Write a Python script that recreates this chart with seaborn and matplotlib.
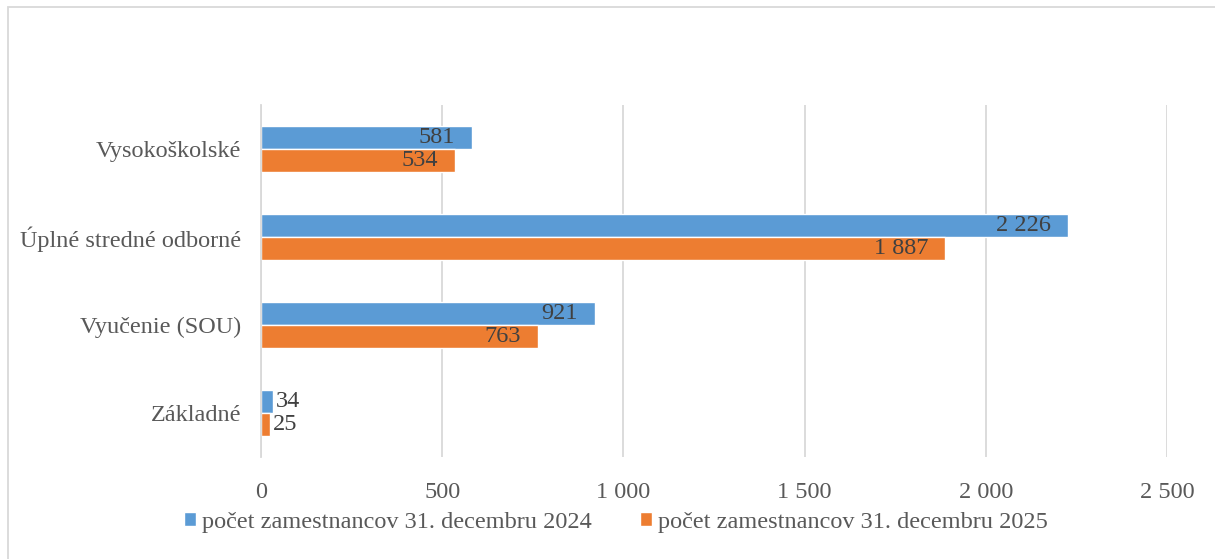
import pandas as pd
import matplotlib
matplotlib.use("Agg")
import matplotlib.pyplot as plt
import seaborn as sns
from matplotlib.patches import Rectangle


categories = ["Vysokoškolské", "Úplné stredné odborné", "Vyučenie (SOU)", "Základné"]
values_2024 = [581, 2226, 921, 34]
values_2025 = [534, 1887, 763, 25]
series = ["počet zamestnancov 31. decembru 2024", "počet zamestnancov 31. decembru 2025"]
xticks = [0, 500, 1000, 1500, 2000, 2500]


def fmt(v):
    return f"{v:,}".replace(",", " ")


df = pd.DataFrame({
    "kategoria": categories * 2,
    "pocet": values_2024 + values_2025,
    "rok": [series[0]] * 4 + [series[1]] * 4,
})

sns.set_style("white")
plt.rcParams["font.family"] = ["Liberation Serif", "DejaVu Serif"]
FS = 17.5

fig = plt.figure(figsize=(12.15, 5.59), dpi=100)
ax = fig.add_axes([0.2148, 0.1825, 0.7457, 0.6297])

sns.barplot(data=df, y="kategoria", x="pocet", hue="rok", order=categories,
            hue_order=series, palette=["#5B9BD5", "#ED7D31"], width=0.52,
            saturation=1, orient="h", ax=ax)

for cont in ax.containers:
    vals = [int(b.get_width()) for b in cont]
    inside = [fmt(v) if v > 100 else "" for v in vals]
    outside = [fmt(v) if v <= 100 else "" for v in vals]
    for t in ax.bar_label(cont, labels=inside, padding=-12, fontsize=FS, color="#404040"):
        t.set_ha("right")
    ax.bar_label(cont, labels=outside, padding=2, fontsize=FS, color="#404040")

ax.set_xlim(0, 2500)
ax.set_xticks(xticks)
ax.set_xticklabels([fmt(v) for v in xticks])
ax.set_ylim(3.5, -0.5)
ax.set_xlabel("")
ax.set_ylabel("")
ax.grid(axis="x", color="#D9D9D9", linewidth=1.3)
ax.set_axisbelow(True)
for s in ["top", "right", "bottom"]:
    ax.spines[s].set_visible(False)
ax.spines["left"].set_color("#D9D9D9")
ax.spines["left"].set_linewidth(1.3)
ax.tick_params(axis="both", length=0, labelsize=FS, labelcolor="#595959")
ax.tick_params(axis="x", pad=18)
ax.tick_params(axis="y", pad=14)

ax.legend(loc="center", bbox_to_anchor=(0.507, 0.066), bbox_transform=fig.transFigure,
          ncol=2, frameon=False, fontsize=FS, labelcolor="#595959",
          handlelength=0.5, handleheight=0.5, handletextpad=0.25, columnspacing=2.0)

fig.patches.append(Rectangle((8 / 1215, -0.1), 1.2, 1 - 7 / 559 + 0.1,
                             transform=fig.transFigure, fill=False,
                             edgecolor="#D9D9D9", linewidth=1.3))

fig.savefig("out.png", dpi=100)
